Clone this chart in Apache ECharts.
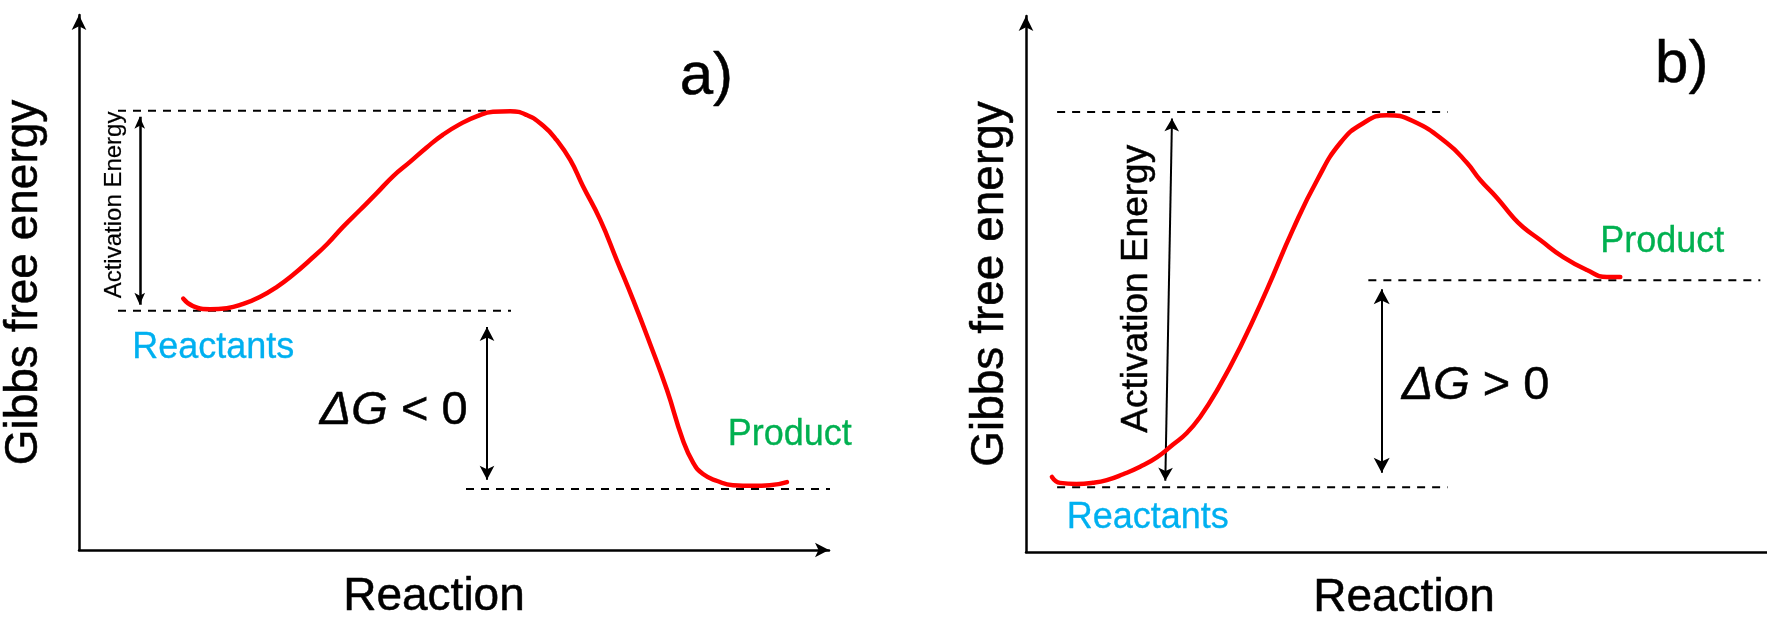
<!DOCTYPE html>
<html>
<head>
<meta charset="utf-8">
<title>Gibbs free energy profiles</title>
<script src="https://cdn.jsdelivr.net/npm/echarts@6/dist/echarts.min.js"></script>
<style>
  html, body { margin: 0; padding: 0; background: #ffffff; }
  #chart { width: 1767px; height: 619px; }
</style>
</head>
<body>
<div id="chart"></div>
<script>
// ---- Data (reaction coordinate and free energy in arbitrary units, 0–100) ----

// a) exergonic reaction profile
const profileA_x = [13.9, 15.2, 17.5, 19.7, 21.9, 24.1, 26.4, 28.5, 30.8, 33.1, 35.2, 37.5, 39.7,
                    41.9, 44.1, 46.4, 48.5, 50.8, 53.1, 55.2, 57.5, 59.7, 61.9, 63.7, 65.5, 67.2,
                    69.5, 71.7, 73.9, 76.1, 78.4, 80.5, 81.9, 83.2, 85.1, 87.2, 89.9, 92.1, 94.4];
const profileA_g = [47.0, 45.6, 45.0, 45.2, 46.0, 47.3, 49.2, 51.4, 54.2, 57.2, 60.4, 63.6, 66.7,
                    69.9, 72.5, 75.3, 77.6, 79.6, 81.1, 81.9, 82.0, 81.3, 79.3, 76.6, 72.9, 68.0,
                    61.7, 54.2, 46.7, 38.7, 29.9, 20.6, 16.3, 14.2, 12.9, 12.1, 12.0, 12.1, 12.7];

// b) endergonic reaction profile
const profileB_x = [3.5, 4.6, 6.8, 9.0, 10.9, 13.1, 15.4, 17.7, 19.8, 21.7, 23.5, 25.8, 28.9, 32.5,
                    36.0, 39.3, 42.4, 45.5, 48.7, 52.2, 56.8, 59.5, 61.3, 63.6, 65.7, 67.1, 69.4,
                    72.5, 75.7, 78.4, 80.2];
const profileB_g = [14.0, 12.9, 12.7, 12.9, 13.4, 14.5, 15.9, 17.7, 20.0, 22.2, 25.2, 30.2, 38.2, 48.9,
                    60.1, 69.4, 76.3, 80.0, 81.5, 80.4, 76.3, 72.6, 69.4, 66.0, 62.5, 60.6, 58.2,
                    55.0, 52.6, 51.3, 51.3];

// Energy levels: [reactants, transition state, product]
const levelsA = [44.7, 82.1, 11.4];
const levelsB = [12.1, 82.1, 50.7];

// Tips of the ΔG arrows: [upper, lower]
const deltaTipsA = [43.0, 11.8];
const deltaTipsB = [50.4, 13.4];

// Texts
const panelTags = ['a)', 'b)'];
const axisTitles = ['Reaction', 'Gibbs free energy'];
const stateNames = ['Reactants', 'Product'];
const barrierName = 'Activation Energy';
const deltaSigns = ['<', '>'];

// ---- Layout & styling ----
const FONT = '"Liberation Sans", Arial, Helvetica, sans-serif';
const GRID_A = { left: 79, top: 15, width: 750, height: 535 };
const GRID_B = { left: 1026, top: 16, width: 741, height: 536 };
const INK = '#000000';
const REACTANT_BLUE = '#00B0F0';
const PRODUCT_GREEN = '#00B050';
const CURVE_RED = '#FF0000';
// a hairline outline in the glyph colour gives the text its slightly heavier weight
const inkText = { color: INK, textBorderColor: INK, textBorderWidth: 0.5, opacity: 1 };
const colouredText = color => ({ color, textBorderColor: color, textBorderWidth: 0.3, opacity: 1 });

const pairs = (xs, ys) => xs.map((x, i) => [x, ys[i]]);
const unitsPerPx = grid => 100 / grid.height;

function xAxisFor(gridIndex, withArrow, nameGap, namePadding) {
  return {
    type: 'value', gridIndex, min: 0, max: 100,
    axisLine: {
      show: true, onZero: false,
      symbol: withArrow ? ['none', 'arrow'] : 'none',
      symbolSize: [11, 14],
      lineStyle: { color: INK, width: 2.5, opacity: 1 }
    },
    axisTick: { show: false }, axisLabel: { show: false }, splitLine: { show: false },
    name: axisTitles[0], nameLocation: 'middle', nameGap,
    nameTextStyle: Object.assign({ fontSize: 46, fontFamily: FONT, padding: namePadding }, inkText)
  };
}

function yAxisFor(gridIndex, nameGap) {
  return {
    type: 'value', gridIndex, min: 0, max: 100,
    axisLine: {
      show: true, onZero: false,
      symbol: ['none', 'arrow'],
      symbolSize: [11, 15],
      lineStyle: { color: INK, width: 2.5, opacity: 1 }
    },
    axisTick: { show: false }, axisLabel: { show: false }, splitLine: { show: false },
    name: axisTitles[1], nameLocation: 'middle', nameRotate: 90, nameGap,
    nameTextStyle: Object.assign({ fontSize: 46, fontFamily: FONT }, inkText)
  };
}

function curveSeries(gridIndex, pts) {
  return {
    type: 'line', xAxisIndex: gridIndex, yAxisIndex: gridIndex,
    data: pts, smooth: 0.5, showSymbol: false, symbol: 'none', clip: false,
    lineStyle: { color: CURVE_RED, width: 4.5, cap: 'round', join: 'round', opacity: 1 },
    z: 5, silent: true
  };
}

function guideSeries(gridIndex, x0, x1, level) {
  return {
    type: 'line', xAxisIndex: gridIndex, yAxisIndex: gridIndex,
    data: [[x0, level], [x1, level]], showSymbol: false, symbol: 'none', clip: false,
    lineStyle: { color: INK, width: 2, type: [8, 7], opacity: 1 },
    z: 2, silent: true
  };
}

// Double-headed arrow whose tips sit at (xLow, yLow) and (xHigh, yHigh)
function arrowSeries(grid, gridIndex, xLow, yLow, xHigh, yHigh, size, width) {
  const inset = (size[1] / 2) * unitsPerPx(grid);
  return {
    type: 'lines', coordinateSystem: 'cartesian2d', xAxisIndex: gridIndex, yAxisIndex: gridIndex,
    symbol: ['arrow', 'arrow'], symbolSize: [size, size],
    lineStyle: { color: INK, width, opacity: 1, curveness: 0 },
    itemStyle: { color: INK, opacity: 1 },
    data: [{ coords: [[xLow, yLow + inset], [xHigh, yHigh - inset]] }],
    z: 3, silent: true, animation: false
  };
}

function textItem(at, label) {
  return {
    value: at,
    itemStyle: { opacity: 1 },
    label: Object.assign({
      show: true, position: [0, 0], align: 'left', verticalAlign: 'middle', fontFamily: FONT
    }, inkText, label)
  };
}

function labelSeries(gridIndex, items) {
  return {
    type: 'scatter', xAxisIndex: gridIndex, yAxisIndex: gridIndex,
    symbolSize: 0, clip: false, silent: true, z: 6,
    itemStyle: { opacity: 1 },
    data: items
  };
}

// "ΔG < 0" style labels: italic ΔG followed by an upright relation
const deltaRich = {
  i: Object.assign({ fontStyle: 'italic', fontSize: 47, fontFamily: FONT }, inkText),
  n: Object.assign({ fontSize: 47, fontFamily: FONT }, inkText)
};
const deltaText = sign => '{i|ΔG}{n| ' + sign + ' 0}';

const option = {
  backgroundColor: '#ffffff',
  animation: false,
  grid: [
    Object.assign({ outerBoundsMode: 'none', containLabel: false }, GRID_A),
    Object.assign({ outerBoundsMode: 'none', containLabel: false }, GRID_B)
  ],
  xAxis: [
    xAxisFor(0, true, 24, [0, 40, 0, 0]),
    xAxisFor(1, false, 23, [0, 0, 0, 15])
  ],
  yAxis: [
    yAxisFor(0, 32),
    yAxisFor(1, 13)
  ],
  series: [
    // panel a
    guideSeries(0, 5.2, 54.3, levelsA[1]),
    guideSeries(0, 5.2, 57.6, levelsA[0]),
    guideSeries(0, 51.6, 104.0, levelsA[2]),
    curveSeries(0, pairs(profileA_x, profileA_g)),
    arrowSeries(GRID_A, 0, 8.1, levelsA[0], 8.1, levelsA[1], [8, 12], 2.5),
    arrowSeries(GRID_A, 0, 54.4, deltaTipsA[1], 54.4, deltaTipsA[0], [11, 14], 2),
    labelSeries(0, [
      textItem([4.7, 64.5], { formatter: barrierName, fontSize: 24, rotate: 90, align: 'center', textBorderWidth: 0.2 }),
      textItem([7.1, 37.7], Object.assign({ formatter: stateNames[0], fontSize: 36 }, colouredText(REACTANT_BLUE))),
      textItem([86.5, 21.4], Object.assign({ formatter: stateNames[1], fontSize: 36 }, colouredText(PRODUCT_GREEN))),
      textItem([32.1, 26.0], { formatter: deltaText(deltaSigns[0]), fontSize: 47, rich: deltaRich }),
      textItem([80.1, 88.4], { formatter: panelTags[0], fontSize: 60 })
    ]),

    // panel b
    guideSeries(1, 4.2, 56.9, levelsB[1]),
    guideSeries(1, 4.2, 56.9, levelsB[0]),
    guideSeries(1, 46.2, 99.1, levelsB[2]),
    curveSeries(1, pairs(profileB_x, profileB_g)),
    arrowSeries(GRID_B, 1, 18.8, levelsB[0], 19.7, levelsB[1], [11, 13], 2),
    arrowSeries(GRID_B, 1, 48.0, deltaTipsB[1], 48.0, deltaTipsB[0], [12, 15], 2),
    labelSeries(1, [
      textItem([15.0, 49.1], { formatter: barrierName, fontSize: 37, rotate: 90, align: 'center' }),
      textItem([5.5, 6.4], Object.assign({ formatter: stateNames[0], fontSize: 36 }, colouredText(REACTANT_BLUE))),
      textItem([77.5, 57.9], Object.assign({ formatter: stateNames[1], fontSize: 36 }, colouredText(PRODUCT_GREEN))),
      textItem([50.7, 31.0], { formatter: deltaText(deltaSigns[1]), fontSize: 47, rich: deltaRich }),
      textItem([84.9, 90.7], { formatter: panelTags[1], fontSize: 60 })
    ])
  ]
};

const chart = echarts.init(document.getElementById('chart'), null, { renderer: 'canvas' });
chart.setOption(option);
</script>
</body>
</html>
